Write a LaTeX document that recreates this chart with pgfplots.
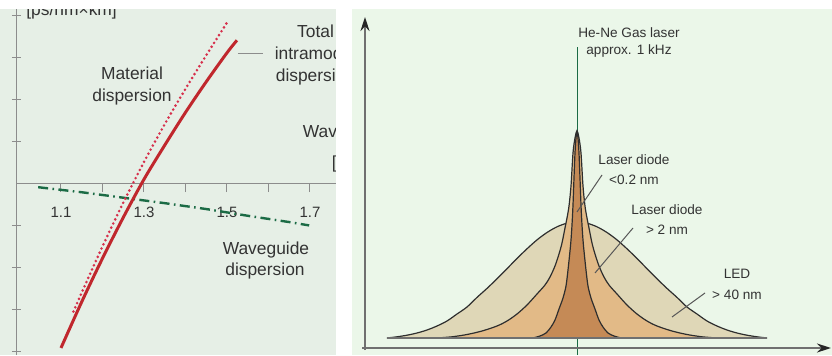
\documentclass[border=0pt]{standalone}
\usepackage{pgfplots}
\pgfplotsset{compat=1.18}
\usepackage{fontspec}
\setmainfont{Liberation Sans}
\usetikzlibrary{arrows.meta}
\definecolor{leftbg}{HTML}{E6EFE6}
\definecolor{rightbg}{HTML}{EBF7E9}
\definecolor{axisgray}{HTML}{8C8C8C}
\definecolor{txt}{HTML}{333333}
\definecolor{redline}{HTML}{C0272D}
\definecolor{dotred}{HTML}{D6304C}
\definecolor{wggreen}{HTML}{1B6B45}
\definecolor{ledfill}{HTML}{DFD7B7}
\definecolor{tanfill}{HTML}{E2BA87}
\definecolor{darkfill}{HTML}{C58A56}
\definecolor{outline}{HTML}{2E2E2E}
\definecolor{axgray}{HTML}{707070}
\newcommand{\lfont}{\fontsize{8.7}{10.5}\selectfont}
\newcommand{\rfont}{\fontsize{6.8}{8.5}\selectfont}
\begin{document}
\begin{tikzpicture}
\fill[white] (0,0) rectangle (416pt,177.5pt);
\useasboundingbox (0,0) rectangle (416pt,177.5pt);
\fill[leftbg] (0,0) rectangle (168pt,173pt);
\fill[rightbg] (176pt,0) rectangle (416pt,173pt);
\begin{scope}
\clip (0,0) rectangle (168pt,173pt);
\begin{axis}[
  at={(8.25pt,0pt)}, anchor=south west, scale only axis,
  width=159.75pt, height=173pt,
  xmin=0.9928, xmax=1.7627, ymin=-4.095, ymax=4.143,
  axis x line=middle, axis y line=left,
  axis line style={draw=axisgray, line width=0.5pt, -},
  xtick={1.1,1.2,1.3,1.4,1.5,1.6,1.7},
  xticklabels={1.1,,1.3,,1.5,,1.7},
  ytick={-4,-3,-2,-1,1,2,3,4}, yticklabels={},
  tick align=center,
  major tick length=4.5pt,
  xtick style={draw=axisgray, line width=0.5pt, yshift=-2.25pt},
  ytick style={draw=axisgray, line width=0.5pt},
  xticklabel style={font=\fontsize{7.5}{9}\selectfont, text=txt, anchor=base, yshift=-15pt},
  /pgf/number format/assume math mode=true,
]
\addplot[no marks, draw=wggreen, line width=1.2pt, dash pattern=on 5pt off 2.2pt on 0.8pt off 2.2pt]
  coordinates {(1.045,-0.10) (1.15,-0.22) (1.25,-0.35) (1.35,-0.48) (1.45,-0.62) (1.55,-0.78) (1.65,-0.93) (1.698,-1.01)};
\addplot[no marks, draw=redline, line width=1.5pt, smooth]
  coordinates {(1.10,-3.927) (1.15,-2.829) (1.20,-1.794) (1.25,-0.822) (1.30,0.088) (1.35,0.90) (1.40,1.68) (1.45,2.41) (1.50,3.10) (1.524,3.398)};
\addplot[no marks, draw=dotred, line width=1.45pt, line cap=round, dash pattern=on 0pt off 2.3pt, smooth]
  coordinates {(1.13,-3.06) (1.15,-2.61) (1.20,-1.51) (1.25,-0.47) (1.30,0.50) (1.35,1.40) (1.40,2.24) (1.45,3.04) (1.502,3.85)};
\node[font=\lfont, text=txt, anchor=base west, inner sep=0pt] at (axis cs:1.0157,3.988) {[ps/nm×km]};
\node[font=\lfont, text=txt, anchor=base, inner sep=0pt] at (axis cs:1.2711,2.464) {Material};
\node[font=\lfont, text=txt, anchor=base, inner sep=0pt] at (axis cs:1.2711,1.929) {dispersion};
\node[font=\lfont, text=txt, anchor=base, inner sep=0pt] at (axis cs:1.7133,3.476) {Total};
\node[font=\lfont, text=txt, anchor=base, inner sep=0pt] at (axis cs:1.7133,2.929) {intramodal};
\node[font=\lfont, text=txt, anchor=base, inner sep=0pt] at (axis cs:1.7133,2.412) {dispersion};
\node[font=\lfont, text=txt, anchor=base, inner sep=0pt] at (axis cs:1.7928,1.095) {Wavelength};
\node[font=\lfont, text=txt, anchor=base, inner sep=0pt] at (axis cs:1.794,0.357) {[µm]};
\node[font=\lfont, text=txt, anchor=base, inner sep=0pt] at (axis cs:1.594,-1.714) {Waveguide};
\node[font=\lfont, text=txt, anchor=base, inner sep=0pt] at (axis cs:1.5916,-2.214) {dispersion};
\draw[axisgray, line width=0.5pt] (axis cs:1.5265,3.095) -- (axis cs:1.5867,3.095);
\end{axis}
\end{scope}
\begin{axis}[
  at={(176pt,0pt)}, anchor=south west, scale only axis,
  width=240pt, height=173pt,
  xmin=-225, xmax=255, ymin=-17, ymax=329,
  hide axis, clip=false,
]
\draw[wggreen, line width=0.5pt] (axis cs:0,-17) -- (axis cs:0,291);
\addplot[no marks, fill=ledfill, draw=outline, line width=0.6pt, smooth]
  coordinates {(-190,0) (-180,1.2) (-170,2.8) (-160,5) (-150,8) (-140,12) (-130,17) (-120,24) (-110,31) (-100,40.6) (-90,49.6) (-80,59.2) (-70,69.3) (-60,79.5) (-50,89.2) (-40,98.1) (-30,105.5) (-20,111.2) (-10,114.8) (0,116)
  (10,114.8) (20,111.2) (30,105.5) (40,98.1) (50,89.2) (60,79.5) (70,69.3) (80,59.2) (90,49.6) (100,40.6) (110,31) (120,24) (130,17) (140,12) (150,8) (160,5) (170,2.8) (180,1.2) (190,0)} -- cycle;
\addplot[no marks, fill=tanfill, draw=outline, line width=0.6pt, smooth]
  coordinates {(-140,0) (-125,1.2) (-110,3.5) (-95,7) (-80,12) (-70,17) (-60,24) (-50,33) (-40,44) (-32,53) (-27,61) (-22,72) (-18,84) (-15,95) (-12,110) (-10,120) (-8,132) (-6,152) (-4,185) (-2,200) (0,207)
  (2,200) (4,185) (6,152) (8,132) (10,120) (12,110) (15,95) (18,84) (22,72) (27,61) (32,53) (40,44) (50,33) (60,24) (70,17) (80,12) (95,7) (110,3.5) (125,1.2) (140,0)} -- cycle;
\addplot[no marks, fill=darkfill, draw=outline, line width=0.6pt, smooth]
  coordinates {(-44,0) (-37,2) (-31,5) (-26,11) (-22,18) (-18,29) (-14,40) (-11,52) (-9,68) (-7,87) (-6,98) (-5,113) (-4,133) (-3,160) (-2,185) (-1,200) (0,207)
  (1,200) (2,185) (3,160) (4,133) (5,113) (6,98) (7,87) (9,68) (11,52) (14,40) (18,29) (22,18) (26,11) (31,5) (37,2) (44,0)} -- cycle;
\draw[axgray, line width=0.9pt] (axis cs:-190,0) -- (axis cs:190,0);
\draw[axgray, line width=0.9pt, -{Stealth[length=7pt,width=4.5pt,color=black!85]}] (axis cs:-212,-12) -- (axis cs:-212,321);
\draw[axgray, line width=0.9pt, -{Stealth[length=7pt,width=4.5pt,color=black!85]}] (axis cs:-215,-10) -- (axis cs:254,-10);
\draw[outline!80, line width=0.5pt] (axis cs:25,163) -- (axis cs:0,126);
\draw[outline!80, line width=0.5pt] (axis cs:56,110) -- (axis cs:18,65);
\draw[outline!80, line width=0.5pt] (axis cs:128,45) -- (axis cs:95,21);
\node[font=\rfont, text=txt, anchor=base, inner sep=0pt] at (axis cs:52,300.7) {He-Ne Gas laser};
\node[font=\rfont, text=txt, anchor=base, inner sep=0pt] at (axis cs:52,283) {approx. 1 kHz};
\node[font=\rfont, text=txt, anchor=base, inner sep=0pt] at (axis cs:57,173) {Laser diode};
\node[font=\rfont, text=txt, anchor=base, inner sep=0pt] at (axis cs:57,153) {<0.2 nm};
\node[font=\rfont, text=txt, anchor=base, inner sep=0pt] at (axis cs:90,123) {Laser diode};
\node[font=\rfont, text=txt, anchor=base, inner sep=0pt] at (axis cs:90,103) {> 2 nm};
\node[font=\rfont, text=txt, anchor=base, inner sep=0pt] at (axis cs:160,59) {LED};
\node[font=\rfont, text=txt, anchor=base, inner sep=0pt] at (axis cs:160,39) {> 40 nm};
\end{axis}
\end{tikzpicture}
\end{document}
